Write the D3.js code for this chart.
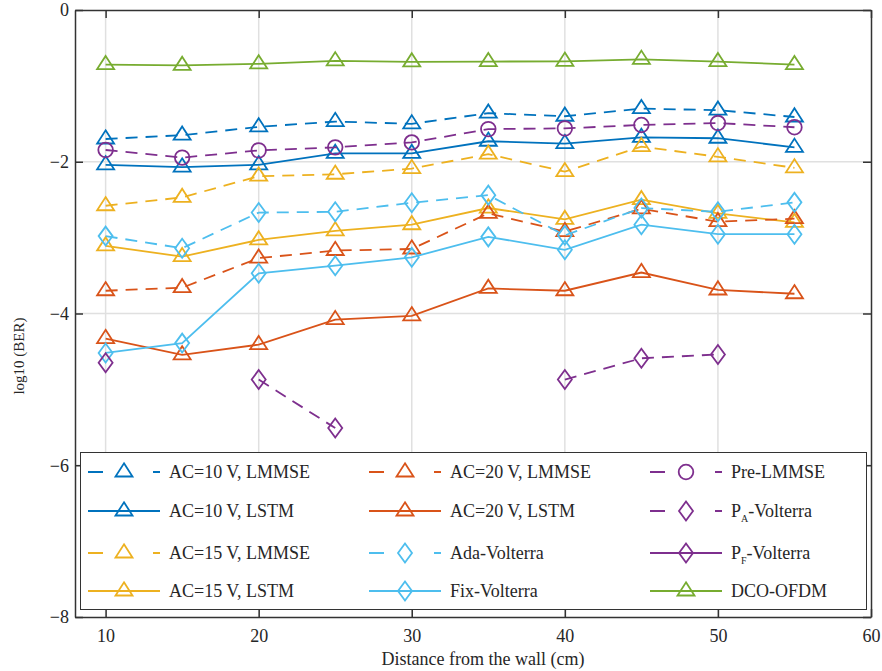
<!DOCTYPE html>
<html>
<head>
<meta charset="utf-8">
<script src="https://cdn.jsdelivr.net/npm/d3@7"></script>
<style>
  html, body { margin: 0; padding: 0; background: #fff; }
  svg { display: block; }
</style>
</head>
<body>
<svg id="chart" width="882" height="671"></svg>
<script>
// Distances from the wall (cm)
const distances = [10, 15, 20, 25, 30, 35, 40, 45, 50, 55];

// log10(BER) per scheme; null marks a distance with no measured point
const ac10Lmmse   = [-1.70, -1.65, -1.54, -1.47, -1.50, -1.36, -1.40, -1.30, -1.32, -1.41];
const ac10Lstm    = [-2.04, -2.07, -2.04, -1.89, -1.89, -1.73, -1.76, -1.68, -1.69, -1.81];
const ac15Lmmse   = [-2.58, -2.47, -2.19, -2.165, -2.09, -1.90, -2.13, -1.80, -1.935, -2.08];
const ac15Lstm    = [-3.11, -3.25, -3.03, -2.91, -2.83, -2.61, -2.76, -2.50, -2.68, -2.80];
const ac20Lmmse   = [-3.70, -3.66, -3.27, -3.17, -3.15, -2.68, -2.92, -2.62, -2.79, -2.75];
const ac20Lstm    = [-4.33, -4.545, -4.41, -4.08, -4.03, -3.67, -3.70, -3.46, -3.69, -3.74];
const adaVolterra = [-2.98, -3.14, -2.67, -2.66, -2.54, -2.44, -2.97, -2.61, -2.66, -2.535];
const fixVolterra = [-4.52, -4.39, -3.47, -3.37, -3.26, -2.99, -3.16, -2.83, -2.955, -2.955];
const preLmmse    = [-1.845, -1.945, -1.85, -1.81, -1.745, -1.57, -1.56, -1.515, -1.49, -1.545];
const paVolterra  = [-4.65, null, -4.87, -5.51, null, null, -4.87, -4.59, -4.54, null];
const pfVolterra  = [null, null, null, null, null, null, null, null, null, null];
const dcoOfdm     = [-0.72, -0.73, -0.71, -0.67, -0.685, -0.68, -0.676, -0.65, -0.68, -0.72];

// Axis ticks
const xTicks = [10, 20, 30, 40, 50, 60];
const yTicks = [0, -2, -4, -6, -8];

// Series styling, in legend order (column-major, 4 rows)
const colors = {
  blue: "#0072BD", orange: "#D95319", yellow: "#EDB120",
  purple: "#7E2F8E", green: "#77AC30", cyan: "#4DBEEE"
};
const series = [
  { name: "AC=10 V, LMMSE", values: ac10Lmmse,   color: colors.blue,   dashed: true,  marker: "tri" },
  { name: "AC=10 V, LSTM",  values: ac10Lstm,    color: colors.blue,   dashed: false, marker: "tri" },
  { name: "AC=15 V, LMMSE", values: ac15Lmmse,   color: colors.yellow, dashed: true,  marker: "tri" },
  { name: "AC=15 V, LSTM",  values: ac15Lstm,    color: colors.yellow, dashed: false, marker: "tri" },
  { name: "AC=20 V, LMMSE", values: ac20Lmmse,   color: colors.orange, dashed: true,  marker: "tri" },
  { name: "AC=20 V, LSTM",  values: ac20Lstm,    color: colors.orange, dashed: false, marker: "tri" },
  { name: "Ada-Volterra",   values: adaVolterra, color: colors.cyan,   dashed: true,  marker: "dia" },
  { name: "Fix-Volterra",   values: fixVolterra, color: colors.cyan,   dashed: false, marker: "dia" },
  { name: "Pre-LMMSE",      values: preLmmse,    color: colors.purple, dashed: true,  marker: "circ" },
  { name: "P|A|-Volterra",  values: paVolterra,  color: colors.purple, dashed: true,  marker: "dia" },
  { name: "P|F|-Volterra",  values: pfVolterra,  color: colors.purple, dashed: false, marker: "dia" },
  { name: "DCO-OFDM",       values: dcoOfdm,     color: colors.green,  dashed: false, marker: "tri" }
];

const serifFont = "Liberation Serif, Tinos, Times New Roman, DejaVu Serif, Noto Serif, serif";

const svg = d3.select("#chart")
  .attr("font-family", serifFont);
const plot = { left: 75, right: 871, top: 10, bottom: 617 };

const x = d3.scaleLinear().domain([8, 60]).range([plot.left, plot.right]);
const y = d3.scaleLinear().domain([-8, 0]).range([plot.bottom, plot.top]);

const axisColor = "#333";
const fontSize = 18;

// Grid
const grid = svg.append("g").attr("stroke", "#e0e0e0").attr("stroke-width", 1.5);
xTicks.filter(t => t < 60).forEach(t => {
  grid.append("line").attr("x1", x(t)).attr("x2", x(t)).attr("y1", plot.top).attr("y2", plot.bottom);
});
yTicks.filter(t => t > -8 && t < 0).forEach(t => {
  grid.append("line").attr("x1", plot.left).attr("x2", plot.right).attr("y1", y(t)).attr("y2", y(t));
});

// Marker shapes
function markerPath(kind) {
  if (kind === "tri") return "M0,-8.7L8.5,4.5L-8.5,4.5Z";
  if (kind === "dia") return "M0,-9.5L7,0L0,9.5L-7,0Z";
  return d3.symbol(d3.symbolCircle, Math.PI * 7.3 * 7.3)();
}

const line = d3.line()
  .defined(d => d.v !== null)
  .x(d => x(d.x))
  .y(d => y(d.v));

const dataLayer = svg.append("g");
series.forEach(s => {
  const pts = distances.map((dx, i) => ({ x: dx, v: s.values[i] }));
  const g = dataLayer.append("g");
  g.append("path")
    .datum(pts)
    .attr("d", line)
    .attr("fill", "none")
    .attr("stroke", s.color)
    .attr("stroke-width", 1.8)
    .attr("stroke-dasharray", s.dashed ? "12,8" : null);
  g.selectAll("path.mk")
    .data(pts.filter(d => d.v !== null))
    .join("path")
    .attr("class", "mk")
    .attr("d", markerPath(s.marker))
    .attr("transform", d => `translate(${x(d.x)},${y(d.v)})`)
    .attr("fill", "none")
    .attr("stroke", s.color)
    .attr("stroke-width", 1.8);
});

// Axis box with inward ticks on all four sides
const axes = svg.append("g");
const tickLen = 8;
const xAxisB = d3.axisBottom(x).tickValues(xTicks).tickSizeInner(-tickLen).tickSizeOuter(0).tickPadding(12)
  .tickFormat(d3.format("d"));
const xAxisT = d3.axisTop(x).tickValues(xTicks).tickSizeInner(-tickLen).tickSizeOuter(0).tickFormat("");
const yAxisL = d3.axisLeft(y).tickValues(yTicks).tickSizeInner(-tickLen).tickSizeOuter(0).tickPadding(6)
  .tickFormat(d => d === 0 ? "0" : "\u2212" + Math.abs(d));
const yAxisR = d3.axisRight(y).tickValues(yTicks).tickSizeInner(-tickLen).tickSizeOuter(0).tickFormat("");

function styleAxis(g) {
  g.attr("font-family", serifFont).attr("font-size", fontSize);
  g.select(".domain").attr("stroke", axisColor).attr("stroke-width", 1.5);
  g.selectAll(".tick line").attr("stroke", axisColor).attr("stroke-width", 1.5);
  g.selectAll(".tick text").attr("fill", "#262626");
}
axes.append("g").attr("transform", `translate(0,${plot.bottom})`).call(xAxisB).call(styleAxis);
axes.append("g").attr("transform", `translate(0,${plot.top})`).call(xAxisT).call(styleAxis);
axes.append("g").attr("transform", `translate(${plot.left},0)`).call(yAxisL).call(styleAxis);
axes.append("g").attr("transform", `translate(${plot.right},0)`).call(yAxisR).call(styleAxis);

// Axis titles
svg.append("text")
  .attr("x", (plot.left + plot.right) / 2 + 10)
  .attr("y", 665)
  .attr("text-anchor", "middle")
  .attr("font-size", fontSize)
  .attr("fill", "#262626")
  .text("Distance from the wall (cm)");
svg.append("text")
  .attr("transform", `translate(24,${356}) rotate(-90)`)
  .attr("text-anchor", "middle")
  .attr("font-size", 15)
  .attr("fill", "#262626")
  .text("log10 (BER)");

// Legend
const legend = svg.append("g");
legend.append("rect")
  .attr("x", 80.5).attr("y", 452.5)
  .attr("width", 786).attr("height", 157)
  .attr("fill", "#fff")
  .attr("stroke", "#333")
  .attr("stroke-width", 1);

const colX = [88, 369, 650];
const rowY = [472, 511, 553, 591];
const sampleLen = 72;

series.forEach((s, i) => {
  const col = Math.floor(i / 4), row = i % 4;
  const x0 = colX[col], yy = rowY[row];
  const item = legend.append("g");
  item.append("line")
    .attr("x1", x0).attr("x2", x0 + sampleLen)
    .attr("y1", yy).attr("y2", yy)
    .attr("stroke", s.color)
    .attr("stroke-width", 1.8)
    .attr("stroke-dasharray", s.dashed ? "15,50" : null);
  item.append("path")
    .attr("d", markerPath(s.marker))
    .attr("transform", `translate(${x0 + sampleLen / 2},${yy})`)
    .attr("fill", "none")
    .attr("stroke", s.color)
    .attr("stroke-width", 1.8);
  const label = item.append("text")
    .attr("x", x0 + sampleLen + 9)
    .attr("y", yy + 6)
    .attr("font-size", 18)
    .attr("fill", "#262626");
  // "P|A|-Volterra" style names carry a subscript between the bars
  const parts = s.name.split("|");
  if (parts.length === 3) {
    label.append("tspan").text(parts[0]);
    label.append("tspan").attr("dy", 5).attr("font-size", 10).text(parts[1]);
    label.append("tspan").attr("dy", -5).text(parts[2]);
  } else {
    label.text(s.name);
  }
});
</script>
</body>
</html>
